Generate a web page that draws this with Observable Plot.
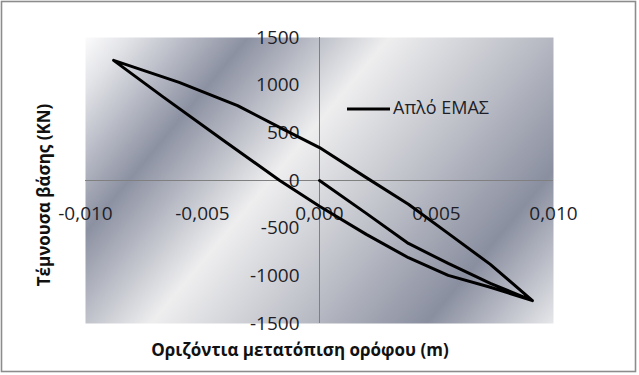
<!DOCTYPE html>
<html><head><meta charset="utf-8">
<script src="https://cdn.jsdelivr.net/npm/d3@7"></script>
<script src="https://cdn.jsdelivr.net/npm/@observablehq/plot@0.6"></script>
<style>
html,body{margin:0;padding:0;background:#fff;}
#chart{position:relative;width:639px;height:375px;}
#chart svg{display:block;}
</style></head><body><div id="chart"></div>
<script>
// Horizontal storey drift (m) and base shear (kN), in path order:
// origin -> +peak (loading), +peak -> -peak (upper branch), -peak -> +peak (lower branch)
const drift = [0, 0.0020, 0.0038, 0.0055, 0.0073, 0.0091,
               0.0073, 0.0055, 0.0038, 0.0020, 0, -0.0016, -0.0035, -0.0060, -0.0088,
               -0.0067, -0.0041, -0.0017, 0, 0.0020, 0.0038, 0.0055, 0.0073, 0.0091];
const shear = [0, -345, -660, -870, -1080, -1260,
               -880, -555, -250, 30, 345, 545, 785, 1030, 1260,
               880, 420, 0, -270, -565, -810, -995, -1120, -1260];
const xTicks = [-0.010, -0.005, 0, 0.005, 0.010];
const xTickLabels = ["-0,010", "-0,005", "0,000", "0,005", "0,010"];
const yTicks = [-1500, -1000, -500, 0, 500, 1000, 1500];
const yTickLabels = ["-1500", "-1000", "-500", "0", "500", "1000", "1500"];
const seriesName = "Απλό ΕΜΑΣ";
const xTitle = "Οριζόντια μετατόπιση ορόφου (m)";
const yTitle = "Τέμνουσα βάσης (KN)";

const W = 639, H = 375, mL = 85, mR = 86, mT = 37, mB = 52;
const font = "'Open Sans', sans-serif";
const points = drift.map((x, i) => ({x, y: shear[i]}));

const plot = Plot.plot({
  width: W, height: H,
  marginLeft: mL, marginRight: mR, marginTop: mT, marginBottom: mB,
  style: {fontFamily: font, background: "transparent", overflow: "visible"},
  x: {domain: [-0.01, 0.01], axis: null},
  y: {domain: [-1500, 1500], axis: null},
  marks: [
    Plot.frame({fill: "url(#bg)", stroke: "none"}),
    Plot.ruleY([0], {stroke: "#808080", strokeWidth: 1}),
    Plot.ruleX([0], {stroke: "#808080", strokeWidth: 1}),
    Plot.text(xTicks, {x: d => d, y: () => 0, text: (d, i) => xTickLabels[i], dy: 33,
      fontSize: 19, fill: "#1e1e28"}),
    Plot.text(yTicks, {x: () => 0, y: d => d, text: (d, i) => yTickLabels[i], dx: -20,
      textAnchor: "end", fontSize: 19, fill: "#1e1e28"}),
    Plot.line(points, {x: "x", y: "y", stroke: "#000", strokeWidth: 3,
      strokeLinejoin: "round", strokeLinecap: "round"})
  ]
});

const svg = d3.select(plot);
// background gradient for plot area
const pw = W - mL - mR, ph = H - mT - mB;
const k = (1.2 * pw + ph) / (1.2 * 1.2 + 1);
const defs = svg.insert("defs", ":first-child");
const grad = defs.append("linearGradient").attr("id", "bg")
  .attr("gradientUnits", "userSpaceOnUse")
  .attr("x1", mL).attr("y1", mT).attr("x2", mL + 1.2 * k).attr("y2", mT + k);
[[0, "#fbfbfc"], [0.06, "#e3e4e8"], [0.23, "#8c91a2"], [0.43, "#eeeeef"],
 [0.62, "#c0c2ca"], [0.82, "#8a8fa0"], [1, "#e6e7ea"]].forEach(([o, c]) =>
  grad.append("stop").attr("offset", o).attr("stop-color", c));

// outer chart border
svg.append("rect").attr("x", 1.5).attr("y", 1.5).attr("width", 634).attr("height", 370)
  .attr("fill", "none").attr("stroke", "#8c8c8c").attr("stroke-width", 1.6);

// axis titles
svg.append("text").attr("x", 300).attr("y", 351).attr("text-anchor", "middle")
  .attr("dominant-baseline", "middle").attr("font-family", font).attr("font-weight", "bold")
  .attr("font-size", 17).attr("fill", "#111").text(xTitle);
svg.append("text").attr("transform", "translate(45,195) rotate(-90)").attr("text-anchor", "middle")
  .attr("dominant-baseline", "middle").attr("font-family", font).attr("font-weight", "bold")
  .attr("font-size", 17).attr("fill", "#111").text(yTitle);

// legend
svg.append("line").attr("x1", 347).attr("x2", 390).attr("y1", 109).attr("y2", 109)
  .attr("stroke", "#000").attr("stroke-width", 3);
svg.append("text").attr("x", 393).attr("y", 109).attr("text-anchor", "start")
  .attr("dominant-baseline", "middle")
  .attr("font-family", font).attr("font-size", 18).attr("fill", "#1e1e28").text(seriesName);

document.getElementById("chart").appendChild(plot);
</script>
</body></html>
